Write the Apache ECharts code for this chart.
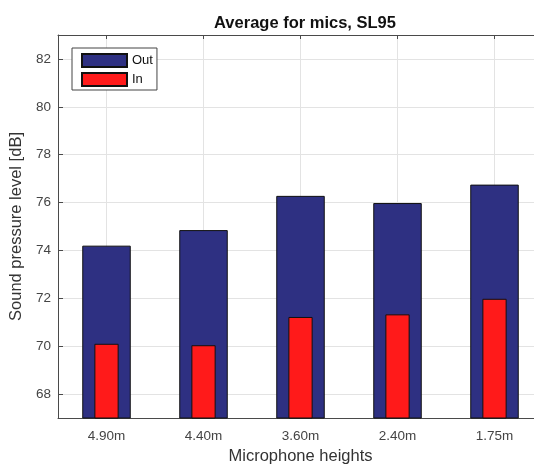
<!DOCTYPE html>
<html>
<head>
<meta charset="utf-8">
<script src="https://cdn.jsdelivr.net/npm/echarts@6/dist/echarts.min.js"></script>
<style>
html,body{margin:0;padding:0;background:#fff}
#main{width:534px;height:465px}
</style>
</head>
<body>
<div id="main"></div>
<script>
// microphone heights (x categories)
var heights = ['4.90m', '4.40m', '3.60m', '2.40m', '1.75m'];
// average levels, dB
var outVals = [74.2, 74.85, 76.28, 75.98, 76.75];
var inVals = [70.1, 70.04, 71.22, 71.33, 71.98];
// y ticks
var yTicks = [68, 70, 72, 74, 76, 78, 80, 82];

var font = 'Liberation Sans, Arial, Helvetica, sans-serif';
var axisCol = '#4a4a4a';
var gridCol = '#e3e3e3';

var myChart = echarts.init(document.getElementById('main'));
var option = {
    backgroundColor: '#fff',
    animation: false,
    title: {
        text: 'Average for mics, SL95',
        left: 300,
        textAlign: 'center',
        top: 10,
        textStyle: {fontFamily: font, fontSize: 16.5, fontWeight: 'bold', color: '#111'}
    },
    legend: {
        orient: 'vertical',
        left: 72,
        top: 48,
        padding: [5, 4, 3, 9],
        itemGap: 4,
        itemWidth: 45,
        itemHeight: 13,
        icon: 'rect',
        backgroundColor: '#fff',
        borderColor: '#444',
        borderWidth: 1,
        borderRadius: 0,
        textStyle: {fontFamily: font, fontSize: 13, lineHeight: 13, color: '#111'},
        data: ['Out', 'In']
    },
    // plot box runs past the right edge, like the cropped original
    grid: {left: 58, top: 35, width: 485, height: 383, outerBoundsMode: 'none', containLabel: false},
    xAxis: [
        {
            type: 'category',
            data: heights,
            position: 'bottom',
            name: 'Microphone heights',
            nameLocation: 'middle',
            nameGap: 29,
            nameTextStyle: {fontFamily: font, fontSize: 16.5, color: '#333'},
            axisLine: {show: true, lineStyle: {color: axisCol, width: 1}},
            axisTick: {show: true, inside: true, length: 4, alignWithLabel: true, lineStyle: {color: axisCol}},
            axisLabel: {fontFamily: font, fontSize: 13.5, color: '#444', margin: 11},
            splitLine: {show: true, alignWithLabel: true, lineStyle: {color: gridCol, width: 1}}
        },
        {
            // second axis: centres the narrow In bars and draws the top border
            type: 'category',
            data: heights,
            position: 'top',
            axisLine: {show: true, lineStyle: {color: axisCol, width: 1}},
            axisTick: {show: true, inside: true, length: 4, alignWithLabel: true, lineStyle: {color: axisCol}},
            axisLabel: {show: false},
            splitLine: {show: false}
        }
    ],
    yAxis: {
        type: 'value',
        min: 67,
        max: 83,
        name: 'Sound pressure level [dB]',
        nameLocation: 'middle',
        nameGap: 24,
        nameTextStyle: {fontFamily: font, fontSize: 16.5, color: '#333'},
        axisLine: {show: true, lineStyle: {color: axisCol, width: 1}},
        axisTick: {show: true, inside: true, length: 5, customValues: yTicks, lineStyle: {color: axisCol}},
        axisLabel: {fontFamily: font, fontSize: 13.5, color: '#444', margin: 7, customValues: yTicks},
        splitLine: {show: true, lineStyle: {color: gridCol, width: 1}}
    },
    series: [
        {
            name: 'Out',
            type: 'bar',
            xAxisIndex: 0,
            barWidth: '50%',
            itemStyle: {color: '#2e3082', borderColor: '#111', borderWidth: 1},
            data: outVals
        },
        {
            name: 'In',
            type: 'bar',
            xAxisIndex: 1,
            barWidth: '25%',
            itemStyle: {color: '#ff1a1a', borderColor: '#111', borderWidth: 1},
            data: inVals
        }
    ]
};
myChart.setOption(option);
</script>
</body>
</html>
